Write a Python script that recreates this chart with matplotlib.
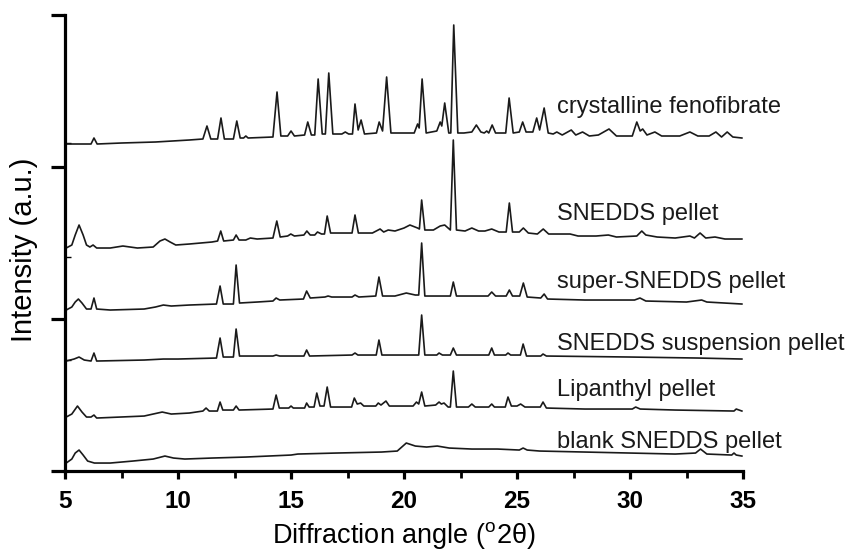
import numpy as np
import matplotlib
matplotlib.use('Agg')
import matplotlib.pyplot as plt
from matplotlib.ticker import FixedLocator, MultipleLocator

plt.rcParams['font.family'] = ['Liberation Sans', 'DejaVu Sans']
plt.rcParams['mathtext.fontset'] = 'custom'
plt.rcParams['mathtext.rm'] = 'Liberation Sans'

# XRD traces: (2theta, counts above the trace's own baseline)
cryst = [(5.0, 0), (5.8, 0), (6.15, 0), (6.28, 60), (6.42, 0), (7.5, 10), (9, 20), (10.5, 40),
         (11.1, 50), (11.28, 180), (11.45, 50), (11.75, 50), (11.9, 260), (12.05, 50), (12.45, 50),
         (12.6, 230), (12.75, 60), (12.9, 60), (13.0, 80), (13.1, 60), (14.2, 70), (14.38, 520),
         (14.55, 80), (14.85, 80), (15.0, 130), (15.15, 80), (15.6, 90), (15.74, 220), (15.9, 90),
         (16.05, 90), (16.2, 650), (16.38, 100), (16.52, 100), (16.67, 710), (16.85, 100),
         (17.25, 100), (17.4, 120), (17.55, 100), (17.72, 100), (17.83, 400), (17.97, 140),
         (18.1, 240), (18.25, 100), (18.78, 110), (18.9, 220), (19.05, 130), (19.23, 670),
         (19.42, 110), (20.45, 110), (20.6, 200), (20.67, 160), (20.8, 650), (20.98, 110),
         (21.45, 130), (21.6, 220), (21.67, 180), (21.8, 410), (21.98, 110), (22.07, 110),
         (22.2, 1190), (22.38, 110), (22.65, 110), (23.0, 120), (23.2, 190), (23.4, 120),
         (23.55, 110), (23.66, 130), (23.75, 110), (23.9, 190), (24.05, 110), (24.5, 110),
         (24.65, 460), (24.83, 110), (25.1, 120), (25.25, 220), (25.4, 120), (25.7, 120),
         (25.87, 260), (26.0, 140), (26.2, 360), (26.38, 110), (26.6, 100), (26.76, 120),
         (27.0, 90), (27.4, 140), (27.6, 90), (27.9, 120), (28.2, 80), (28.6, 90), (29.07, 150),
         (29.4, 80), (30.1, 80), (30.3, 220), (30.45, 130), (30.56, 150), (30.75, 90), (31.1, 120),
         (31.4, 80), (32.2, 80), (32.65, 120), (33.0, 80), (33.5, 80), (33.8, 120), (34.05, 70),
         (34.3, 120), (34.55, 70), (34.95, 60)]

snedds = [(5.05, 0), (5.3, 30), (5.45, 130), (5.62, 230), (5.8, 130), (5.95, 30), (6.1, 10),
          (6.24, 30), (6.4, 0), (7.0, 0), (7.56, 20), (8.2, 0), (8.9, 10), (9.2, 70), (9.42, 90),
          (9.65, 60), (9.9, 30), (10.5, 40), (11.5, 60), (11.75, 70), (11.89, 170), (12.02, 70),
          (12.45, 80), (12.57, 130), (12.7, 80), (13.0, 80), (13.2, 100), (13.5, 90), (14.2, 100),
          (14.37, 270), (14.52, 110), (14.85, 120), (14.99, 140), (15.15, 120), (15.57, 130),
          (15.7, 170), (15.85, 130), (16.05, 130), (16.17, 160), (16.35, 140), (16.48, 140),
          (16.6, 320), (16.75, 150), (17.7, 150), (17.83, 330), (17.98, 150), (18.6, 150),
          (18.94, 190), (19.1, 160), (19.3, 180), (19.6, 170), (20.0, 200), (20.26, 230),
          (20.6, 200), (20.68, 190), (20.78, 480), (20.92, 180), (21.3, 180), (21.6, 220),
          (21.8, 230), (22.05, 180), (22.18, 1080), (22.32, 180), (22.7, 170), (23.0, 200),
          (23.3, 170), (23.58, 170), (23.88, 190), (24.2, 160), (24.52, 160), (24.66, 450),
          (24.8, 160), (25.1, 160), (25.28, 200), (25.5, 150), (25.9, 140), (26.16, 190),
          (26.4, 140), (27.35, 140), (27.7, 120), (28.5, 120), (29.04, 130), (29.4, 110),
          (30.3, 120), (30.52, 170), (30.7, 130), (31.2, 110), (32.0, 100), (32.65, 120),
          (32.85, 100), (33.1, 150), (33.35, 100), (33.76, 110), (34.2, 90), (34.95, 90)]

super_snedds = [(5.05, 0), (5.3, 30), (5.45, 80), (5.59, 110), (5.75, 70), (5.95, 10), (6.15, 10),
                (6.28, 120), (6.4, 10), (7.0, 0), (8.5, 10), (9.0, 30), (9.35, 50), (9.7, 40),
                (10.5, 50), (11.7, 60), (11.86, 240), (12.0, 60), (12.45, 60), (12.57, 450),
                (12.72, 70), (13.5, 80), (14.2, 90), (14.34, 120), (14.5, 100), (15.55, 110),
                (15.69, 190), (15.85, 120), (16.5, 130), (16.64, 140), (16.8, 130), (17.7, 130),
                (17.83, 150), (18.0, 130), (18.75, 140), (18.89, 330), (19.05, 140), (19.6, 140),
                (20.1, 170), (20.5, 150), (20.65, 150), (20.78, 670), (20.92, 140), (21.5, 140),
                (22.05, 140), (22.18, 280), (22.32, 140), (23.0, 140), (23.72, 140), (23.88, 180),
                (24.05, 140), (24.52, 140), (24.66, 200), (24.8, 140), (25.12, 140), (25.28, 270),
                (25.45, 130), (26.05, 120), (26.2, 160), (26.35, 110), (28.0, 100), (30.2, 100),
                (30.44, 120), (30.7, 90), (32.5, 80), (33.17, 100), (33.4, 80), (34.95, 60)]

suspension = [(5.05, 0), (5.4, 20), (5.62, 40), (5.85, 10), (6.15, 0), (6.28, 80), (6.4, 0),
              (8.5, 10), (9.35, 20), (10.0, 20), (11.7, 30), (11.86, 230), (12.0, 40), (12.45, 40),
              (12.57, 320), (12.72, 50), (14.2, 50), (14.34, 60), (14.5, 50), (15.57, 50),
              (15.69, 110), (15.82, 50), (17.7, 60), (17.83, 80), (17.96, 60), (18.77, 60),
              (18.89, 210), (19.02, 60), (20.65, 60), (20.78, 460), (20.92, 60), (21.45, 60),
              (21.55, 80), (21.7, 60), (22.05, 60), (22.18, 130), (22.32, 60), (23.75, 60),
              (23.88, 130), (24.0, 60), (24.5, 60), (24.6, 80), (24.72, 60), (25.15, 60),
              (25.27, 170), (25.42, 50), (26.05, 50), (26.15, 70), (26.3, 50), (30.0, 40),
              (33.0, 30), (34.95, 20)]

lipanthyl = [(5.05, 0), (5.3, 30), (5.55, 110), (5.75, 50), (5.95, 0), (6.15, 0), (6.28, 20),
             (6.4, -10), (8.5, 10), (9.3, 50), (9.7, 30), (10.5, 40), (11.1, 60), (11.24, 90),
             (11.38, 60), (11.74, 60), (11.86, 150), (11.98, 70), (12.45, 70), (12.57, 110),
             (12.7, 70), (14.2, 80), (14.34, 220), (14.48, 90), (14.9, 90), (15.0, 110), (15.1, 90),
             (15.6, 90), (15.69, 140), (15.8, 100), (16.02, 100), (16.14, 240), (16.28, 110),
             (16.46, 110), (16.6, 300), (16.75, 100), (17.68, 100), (17.8, 190), (17.93, 130),
             (18.08, 140), (18.22, 110), (18.75, 110), (18.86, 140), (18.98, 120), (19.2, 160),
             (19.35, 110), (20.4, 110), (20.55, 150), (20.65, 130), (20.78, 250), (20.92, 110),
             (21.4, 120), (21.55, 150), (21.65, 130), (21.77, 140), (21.95, 100), (22.05, 100),
             (22.18, 460), (22.32, 100), (22.85, 100), (23.0, 130), (23.15, 100), (23.75, 100),
             (23.88, 130), (24.0, 100), (24.48, 100), (24.6, 200), (24.75, 110), (25.0, 110),
             (25.16, 130), (25.35, 100), (26.03, 100), (26.15, 150), (26.3, 90), (28.0, 80),
             (30.1, 80), (30.25, 100), (30.45, 80), (32.0, 70), (34.6, 60), (34.7, 80), (34.95, 60)]

blank = [(5.05, 0), (5.3, 40), (5.45, 100), (5.62, 130), (5.8, 80), (6.0, 20), (6.3, 0), (7.0, 0),
         (8.0, 20), (8.9, 40), (9.42, 70), (9.8, 50), (10.3, 40), (11.5, 50), (13.0, 60), (15.0, 80),
         (15.3, 90), (17.0, 100), (19.0, 110), (19.7, 120), (20.1, 200), (20.5, 170), (21.0, 160),
         (21.47, 170), (22.0, 150), (23.0, 140), (24.13, 140), (25.1, 130), (25.27, 150),
         (25.45, 130), (26.0, 120), (28.0, 110), (30.0, 100), (32.0, 90), (32.9, 100), (33.12, 140),
         (33.4, 90), (34.5, 80), (34.6, 100), (34.7, 80), (34.95, 70)]

traces = [cryst, snedds, super_snedds, suspension, lipanthyl, blank]
names = ['crystalline fenofibrate', 'SNEDDS pellet', 'super-SNEDDS pellet',
         'SNEDDS suspension pellet', 'Lipanthyl pellet', 'blank SNEDDS pellet']
offsets = [3270, 2230, 1610, 1100, 540, 80]
label_y = [3583, 2510, 1833, 1210, 753, 233]

fig = plt.figure(figsize=(8.48, 5.49), dpi=100)
ax = fig.add_axes([0.0767, 0.142, 0.7995, 0.8307])

for tr, off in zip(traces, offsets):
    arr = np.array(tr, dtype=float)
    ax.plot(arr[:, 0], arr[:, 1] + off, color='#1a1a1a', lw=1.2)

for name, ly in zip(names, label_y):
    ax.text(26.77, ly, name, fontsize=17, va='baseline', ha='left', color='#1a1a1a')

ax.set_xlim(5, 35)
ax.set_ylim(0, 4560)
for s in ['top', 'right']:
    ax.spines[s].set_visible(False)
for s in ['left', 'bottom']:
    ax.spines[s].set_linewidth(2.3)

ax.xaxis.set_major_locator(MultipleLocator(5))
ax.xaxis.set_minor_locator(MultipleLocator(2.5))
ax.yaxis.set_major_locator(FixedLocator([0, 1520, 3040, 4560]))
ax.yaxis.set_minor_locator(FixedLocator([1110, 2143, 3277]))
ax.set_yticklabels([])
ax.tick_params(axis='x', which='major', direction='out', length=6, width=2.3, pad=8,
               labelsize=17.5)
ax.tick_params(axis='x', which='minor', direction='out', length=5, width=2.0)
ax.tick_params(axis='y', which='major', direction='out', length=10, width=2.3)
ax.tick_params(axis='y', which='minor', direction='in', length=4, width=1.0)
for lab in ax.get_xticklabels():
    lab.set_fontweight('bold')

ax.set_xlabel(r'Diffraction angle ($^{\mathrm{o}}$2θ)', fontsize=19.5)
ax.set_ylabel('Intensity (a.u.)', fontsize=21)
ax.xaxis.label.set_va('baseline')
ax.yaxis.label.set_va('baseline')
ax.xaxis.set_label_coords(0.5, -0.157)
ax.yaxis.set_label_coords(-0.049, 0.486)

fig.savefig('out.png', dpi=100)
